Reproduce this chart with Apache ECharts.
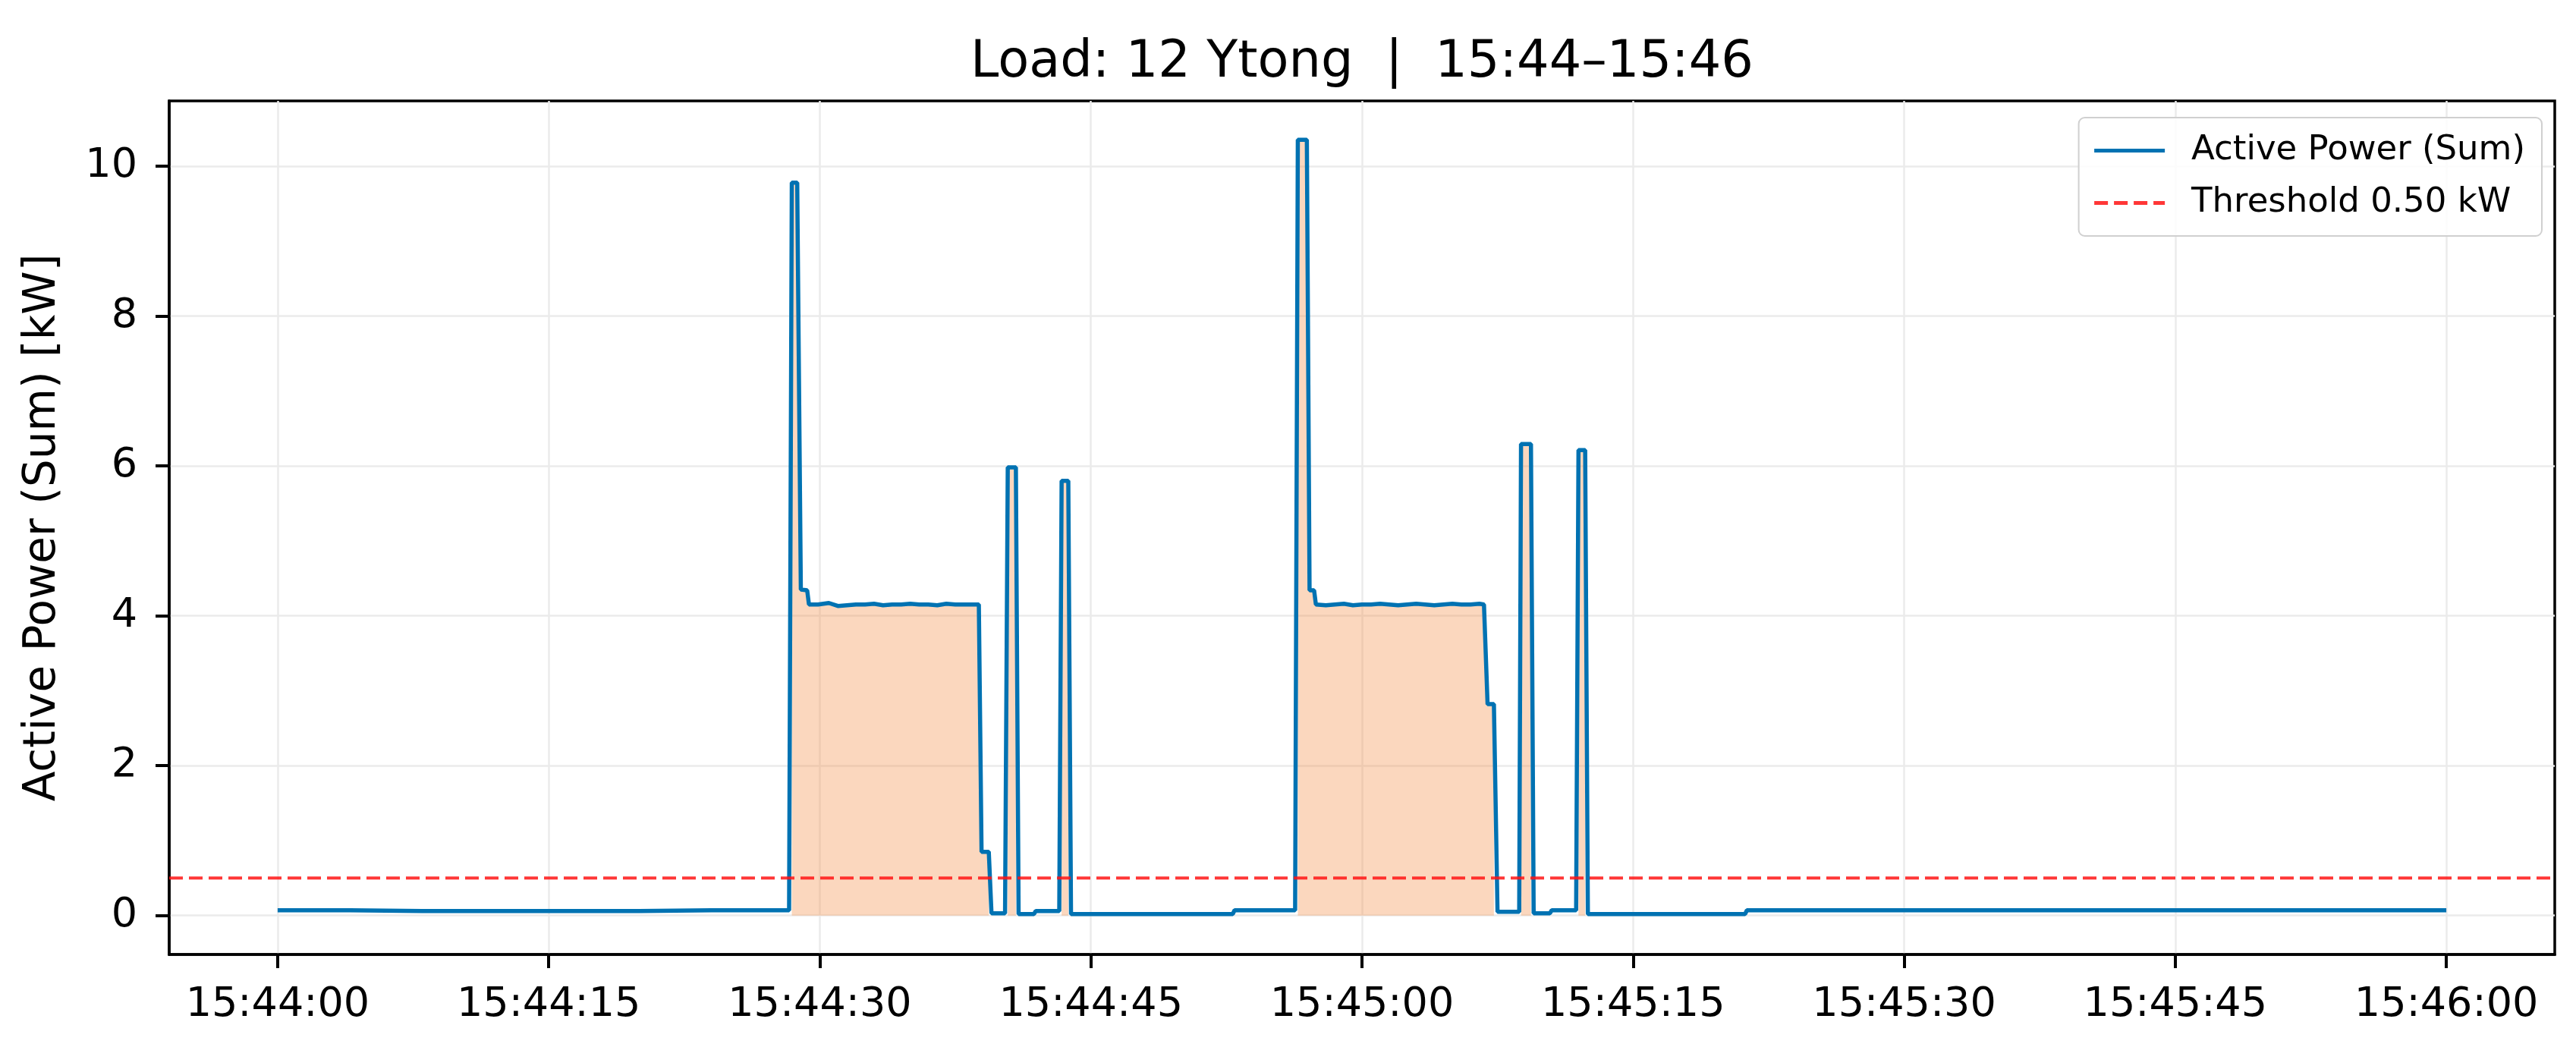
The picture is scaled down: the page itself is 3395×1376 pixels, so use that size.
<!DOCTYPE html>
<html>
<head>
<meta charset="utf-8">
<script src="https://cdn.jsdelivr.net/npm/echarts@6/dist/echarts.min.js"></script>
<style>
  html, body { margin: 0; padding: 0; background: #fff; }
  #chart { width: 3395px; height: 1376px; }
</style>
</head>
<body>
<div id="chart"></div>
<script>
// seconds after 15:44:00
var seconds = [
  0, 4, 8, 12, 16, 20, 24, 28.3,
  28.45, 28.75, 28.95, 29.3, 29.4, 29.9, 30.5, 31.0, 31.5, 32.0, 32.5, 33.0,
  33.5, 34.0, 34.5, 35.0, 35.5, 36.0, 36.5, 37.0, 37.5, 38.0, 38.5, 38.8,
  38.95, 39.35, 39.5, 40.25, 40.4, 40.85, 41.0, 41.85, 41.95, 43.25,
  43.38, 43.75, 43.9, 52.85, 52.95, 56.3,
  56.45, 56.95, 57.1, 57.35, 57.45, 58.0, 58.5, 59.0, 59.5, 60.0, 60.5, 61.0,
  61.5, 62.0, 62.5, 63.0, 63.5, 64.0, 64.5, 65.0, 65.5, 66.0, 66.5, 66.75,
  66.95, 67.3, 67.5, 68.7, 68.8, 69.35, 69.5, 70.4, 70.5, 71.85,
  71.98, 72.35, 72.5, 81.2, 81.3, 90, 100, 110, 120
];
var powerKw = [
  0.07, 0.07, 0.06, 0.06, 0.06, 0.06, 0.07, 0.07,
  9.78, 9.78, 4.35, 4.34, 4.15, 4.15, 4.17, 4.13, 4.14, 4.15, 4.15, 4.16,
  4.14, 4.15, 4.15, 4.16, 4.15, 4.15, 4.14, 4.16, 4.15, 4.15, 4.15, 4.15,
  0.85, 0.85, 0.03, 0.03, 5.98, 5.98, 0.02, 0.02, 0.06, 0.06,
  5.80, 5.80, 0.02, 0.02, 0.07, 0.07,
  10.35, 10.35, 4.34, 4.34, 4.15, 4.14, 4.15, 4.16, 4.14, 4.15, 4.15, 4.16,
  4.15, 4.14, 4.15, 4.16, 4.15, 4.14, 4.15, 4.16, 4.15, 4.15, 4.16, 4.15,
  2.82, 2.82, 0.05, 0.05, 6.29, 6.29, 0.03, 0.03, 0.07, 0.07,
  6.21, 6.21, 0.02, 0.02, 0.07, 0.07, 0.07, 0.07, 0.07
];
var thresholdKw = 0.5;
var xTickSeconds = [0, 15, 30, 45, 60, 75, 90, 105, 120];
var yTicks = [0, 2, 4, 6, 8, 10];
var startClock = 15 * 3600 + 44 * 60;

var FONT = 'DejaVu Sans';

function clock(sec) {
  var s = Math.round(startClock + sec);
  var h = Math.floor(s / 3600), m = Math.floor(s / 60) % 60, ss = s % 60;
  var p = function (n) { return (n < 10 ? '0' : '') + n; };
  return p(h) + ':' + p(m) + ':' + p(ss);
}

var lineData = seconds.map(function (t, i) { return [t, powerKw[i]]; });
// fill only where power is above the threshold
var fillData = seconds.map(function (t, i) {
  return [t, powerKw[i] > thresholdKw ? powerKw[i] : null];
});

var chart = echarts.init(document.getElementById('chart'), null, { renderer: 'canvas' });

var option = {
  animation: false,
  backgroundColor: '#fff',
  graphic: [{
    type: 'text',
    x: 1795, y: 84,
    style: {
      text: 'Load: 12 Ytong  |  15:44\u201315:46',
      fontFamily: FONT, fontSize: 67, fill: '#000',
      textAlign: 'center', textVerticalAlign: 'middle'
    }
  }],
  legend: {
    data: ['Active Power (Sum)', 'Threshold 0.50 kW'],
    orient: 'vertical',
    right: 45, top: 155,
    padding: [21, 22, 21, 18],
    itemGap: 24,
    itemWidth: 93, itemHeight: 14,
    itemStyle: { opacity: 0 },
    lineStyle: { width: 5 },
    backgroundColor: 'rgba(255,255,255,0.85)',
    borderColor: '#d0d0d0', borderWidth: 2, borderRadius: 8,
    textStyle: { fontFamily: FONT, fontSize: 45, color: '#000', padding: [0, 0, 0, 30] }
  },
  grid: {
    left: 223, right: 28, top: 133, bottom: 118,
    show: true, borderColor: '#000', borderWidth: 3.5,
    outerBoundsMode: 'none'
  },
  xAxis: {
    type: 'value',
    min: -6, max: 126,
    axisLine: { show: true, onZero: false, lineStyle: { color: '#000', width: 3.5 } },
    axisTick: { show: true, inside: false, length: 18, customValues: xTickSeconds, lineStyle: { color: '#000', width: 4 } },
    axisLabel: {
      customValues: xTickSeconds, margin: 40,
      fontFamily: FONT, fontSize: 54, color: '#000',
      formatter: function (v) { return clock(v); }
    },
    splitLine: { show: true, lineStyle: { color: '#ebebeb', width: 2.5 } }
  },
  yAxis: {
    type: 'value',
    min: -0.52, max: 10.87,
    name: 'Active Power (Sum) [kW]',
    nameLocation: 'middle', nameRotate: 90, nameGap: 137,
    nameTextStyle: { fontFamily: FONT, fontSize: 58, color: '#000' },
    axisLine: { show: true, onZero: false, lineStyle: { color: '#000', width: 3.5 } },
    axisTick: { show: true, inside: false, length: 18, customValues: yTicks, lineStyle: { color: '#000', width: 4 } },
    axisLabel: {
      customValues: yTicks, margin: 42,
      fontFamily: FONT, fontSize: 54, color: '#000'
    },
    splitLine: { show: true, lineStyle: { color: '#ebebeb', width: 2.5 } }
  },
  series: [
    {
      name: 'fill',
      type: 'line',
      data: fillData,
      symbol: 'none',
      connectNulls: false,
      silent: true,
      z: 1,
      lineStyle: { width: 0, opacity: 0 },
      areaStyle: { color: 'rgba(245,145,75,0.36)', opacity: 1, origin: 0 }
    },
    {
      name: 'Active Power (Sum)',
      type: 'line',
      data: lineData,
      symbol: 'none',
      z: 3,
      color: '#0072B2',
      lineStyle: { color: '#0072B2', width: 5.5 }
    },
    {
      name: 'Threshold 0.50 kW',
      type: 'line',
      data: [[-6, thresholdKw], [126, thresholdKw]],
      symbol: 'none',
      z: 4,
      color: 'rgba(255,20,20,0.85)',
      lineStyle: { color: 'rgba(255,20,20,0.85)', width: 4, type: [18, 8] }
    }
  ]
};

chart.setOption(option);
</script>
</body>
</html>
